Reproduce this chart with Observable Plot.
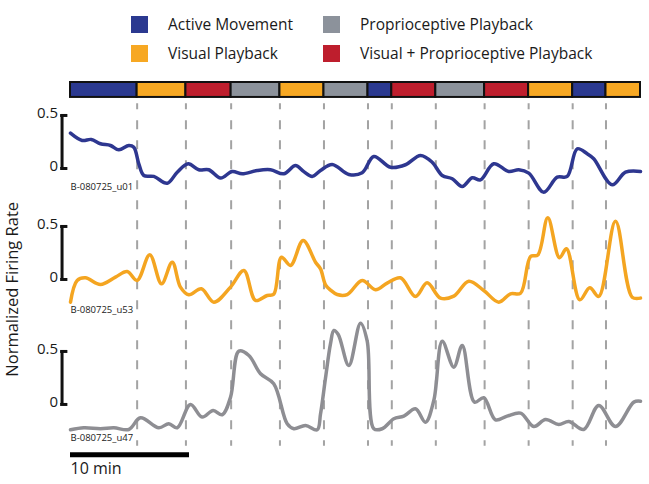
<!DOCTYPE html>
<html>
<head>
<meta charset="utf-8">
<script src="https://cdn.jsdelivr.net/npm/d3@7"></script>
<script src="https://cdn.jsdelivr.net/npm/@observablehq/plot@0.6"></script>
<style>
  html, body { margin: 0; padding: 0; background: #fff; }
  body { width: 649px; height: 484px; overflow: hidden; font-family: "Open Sans", sans-serif; }
  #legend { position: relative; height: 75px; }
  .item { position: absolute; display: flex; align-items: center; font-size: 15.5px; color: #1a1a1a; white-space: nowrap; }
  .sw { width: 17px; height: 17px; margin-right: 20px; }
  svg { display: block; overflow: visible; }
</style>
</head>
<body>
<div id="legend"></div>
<div id="chart"></div>
<script>
// ---------- data ----------
const conditions = ["Active Movement", "Proprioceptive Playback", "Visual Playback", "Visual + Proprioceptive Playback"];
const conditionColors = ["#2b3990", "#8c929b", "#f7a823", "#be1e2d"];

// session timeline (minutes)
const segmentStarts = [0, 5.6, 9.7, 13.5, 17.6, 21.3, 25.0, 27.0, 30.7, 34.8, 38.5, 42.2, 45.0];
const segmentEnds   = [5.6, 9.7, 13.5, 17.6, 21.3, 25.0, 27.0, 30.7, 34.8, 38.5, 42.2, 45.0, 47.9];
const segmentConditions = ["Active Movement", "Visual Playback", "Visual + Proprioceptive Playback", "Proprioceptive Playback",
  "Visual Playback", "Proprioceptive Playback", "Active Movement", "Visual + Proprioceptive Playback",
  "Proprioceptive Playback", "Visual + Proprioceptive Playback", "Visual Playback", "Active Movement", "Visual Playback"];

const unitNames = ["B-080725_u01", "B-080725_u53", "B-080725_u47"];
const unitColors = ["#2e3790", "#f4a521", "#8e8e93"];

const u01Time = [0, 0.98, 1.74, 2.52, 3.36, 4.06, 4.9, 5.32, 5.74, 6.16, 7.0, 8.13, 8.97, 9.89, 10.78, 11.62, 12.61, 13.59, 14.43, 15.69, 16.81, 17.92, 18.91, 19.61, 20.31, 21.01, 21.99, 23.39, 24.51, 25.49, 26.89, 28.15, 29.41, 30.39, 31.24, 32.08, 32.92, 33.76, 34.45, 35.57, 36.83, 37.67, 38.51, 39.77, 40.9, 41.74, 42.58, 43.42, 43.97, 45.52, 46.64, 47.9];
const u01Rate = [0.333, 0.264, 0.274, 0.233, 0.217, 0.176, 0.217, 0.20, 0.044, -0.066, -0.075, -0.139, -0.035, 0.044, -0.012, -0.012, -0.091, -0.028, -0.05, -0.019, -0.012, -0.05, 0.028, -0.03, -0.075, -0.019, 0.038, -0.057, -0.041, 0.113, 0.012, 0.035, 0.123, 0.059, -0.066, -0.097, -0.17, -0.088, -0.107, 0.044, -0.028, -0.012, -0.044, -0.224, -0.082, -0.075, 0.186, 0.139, 0.092, -0.154, -0.035, -0.028];

const u53Time = [0, 0.56, 1.26, 2.52, 3.78, 4.76, 5.6, 6.66, 7.65, 8.55, 9.24, 9.94, 11.0, 12.04, 13.45, 14.57, 15.55, 16.53, 17.08, 17.73, 18.49, 19.55, 20.59, 21.01, 21.43, 21.85, 22.41, 23.25, 24.51, 25.63, 26.61, 27.73, 28.99, 29.97, 31.09, 32.21, 33.47, 34.73, 35.99, 36.97, 37.82, 38.66, 39.27, 40.11, 41.09, 41.68, 42.8, 43.64, 44.39, 45.8, 47.2, 47.9];
const u53Rate = [-0.214, -0.009, 0.016, -0.047, 0.022, 0.075, -0.009, 0.233, -0.041, 0.163, -0.072, -0.144, -0.088, -0.214, -0.072, 0.085, -0.198, -0.151, -0.14, 0.21, 0.132, 0.368, 0.163, 0.10, -0.05, -0.10, -0.142, -0.142, -0.009, -0.097, -0.035, 0.016, -0.16, -0.031, -0.176, -0.157, -0.016, -0.104, -0.214, -0.135, -0.13, 0.217, 0.23, 0.582, 0.205, 0.29, -0.192, -0.078, -0.16, 0.55, -0.167, -0.176];

const u47Time = [0, 1.12, 2.52, 3.64, 4.9, 5.88, 7.42, 8.26, 8.97, 10.08, 11.06, 11.99, 12.75, 13.45, 14.15, 14.99, 15.97, 17.08, 18.21, 18.77, 19.75, 20.73, 21.01, 21.43, 21.85, 22.13, 22.5, 23.39, 24.37, 24.93, 25.49, 26.19, 27.17, 28.01, 28.99, 29.83, 30.53, 31.24, 32.21, 32.92, 33.95, 34.73, 35.71, 36.69, 37.82, 38.93, 39.92, 41.03, 41.87, 43.13, 44.39, 45.8, 47.34, 47.9];
const u47Rate = [-0.239, -0.22, -0.229, -0.22, -0.236, -0.126, -0.22, -0.182, -0.22, 0.0, -0.119, -0.057, -0.097, 0.069, 0.503, 0.462, 0.29, 0.195, -0.182, -0.229, -0.198, -0.239, -0.09, 0.25, 0.573, 0.698, 0.66, 0.368, 0.767, 0.6, -0.229, -0.229, -0.135, -0.11, -0.041, -0.167, 0.038, 0.597, 0.352, 0.557, 0.022, 0.063, -0.145, -0.11, -0.082, -0.208, -0.142, -0.189, -0.16, -0.236, -0.009, -0.208, 0.022, 0.03];

const bracketTicks = [0, 0.5];
const bracketLabels = ["0", "0.5"];
const scaleBarMinutes = 10;
const scaleBarLabel = "10 min";
const yTitle = "Normalized Firing Rate";

// ---------- layout (vertical stacking of the three traces, in rate units) ----------
const panelOffsets = [0, -1.047, -2.226];
const labelOffsets = [-0.17, -0.29, -0.32];
const barY1 = 0.67, barY2 = 0.811;
const dashTop = 0.61, dashBottom = -2.62;
const bracketX = -0.71, bracketTickX = -0.22, bracketLabelX = -1.05;
const scaleBarY = -2.70, scaleLabelY = -2.83;
const titleX = -4.85, titleY = -1.14;

// ---------- legend ----------
const legend = document.getElementById("legend");
const legendPos = [[131, 13], [323, 13], [131, 42], [323, 42]];
conditions.forEach((c, i) => {
  const el = document.createElement("div");
  el.className = "item";
  el.style.left = legendPos[i][0] + "px";
  el.style.top = legendPos[i][1] + "px";
  el.innerHTML = `<div class="sw" style="background:${conditionColors[i]}"></div><span>${c}</span>`;
  legend.appendChild(el);
});

// ---------- tables ----------
const segments = segmentStarts.map((s, i) => ({start: s, end: segmentEnds[i], condition: segmentConditions[i]}));
const boundaries = segmentStarts.slice(1);
const traces = [[u01Time, u01Rate], [u53Time, u53Rate], [u47Time, u47Rate]].flatMap(([t, r], k) =>
  t.map((time, i) => ({unit: unitNames[k], time, y: r[i] + panelOffsets[k]})));
const brackets = panelOffsets.map((o) => ({y1: o + bracketTicks[0], y2: o + bracketTicks[1]}));
const bracketTickRows = panelOffsets.flatMap((o) => bracketTicks.map((t, j) => ({y: o + t, label: bracketLabels[j]})));
const unitLabels = unitNames.map((u, k) => ({unit: u, y: panelOffsets[k] + labelOffsets[k]}));

const font = "Open Sans";
const chart = Plot.plot({
  width: 649,
  height: 409,
  marginLeft: 70,
  marginRight: 9,
  marginTop: 0,
  marginBottom: 0,
  style: {fontFamily: font, background: "white", overflow: "visible"},
  x: {domain: [0, 47.9], axis: null},
  y: {domain: [-2.981, 0.877], axis: null},
  color: {domain: conditions, range: conditionColors},
  marks: [
    Plot.ruleX(boundaries, {y1: dashTop, y2: dashBottom, stroke: "#a3a3a3", strokeWidth: 2, strokeDasharray: "9,11", strokeDashoffset: 3}),
    Plot.rect(segments, {x1: "start", x2: "end", y1: barY1, y2: barY2, fill: "condition", stroke: "#111", strokeWidth: 2}),
    Plot.line(traces, {x: "time", y: "y", z: "unit", stroke: (d) => unitColors[unitNames.indexOf(d.unit)], strokeWidth: 3.5, curve: "catmull-rom", strokeLinejoin: "round", strokeLinecap: "round"}),
    Plot.ruleX(brackets, {x: bracketX, y1: "y1", y2: "y2", stroke: "#111", strokeWidth: 3}),
    Plot.ruleY(bracketTickRows, {y: "y", x1: bracketX - 0.12, x2: bracketTickX, stroke: "#111", strokeWidth: 3}),
    Plot.text(bracketTickRows, {x: bracketLabelX, y: "y", text: "label", textAnchor: "end", fontSize: 15, fill: "#1a1a1a", dy: -2}),
    Plot.text(unitLabels, {x: 0, y: "y", text: "unit", textAnchor: "start", fontSize: 9.5, fill: "#222"}),
    Plot.ruleY([scaleBarY], {x1: 0, x2: scaleBarMinutes, stroke: "#000", strokeWidth: 5}),
    Plot.text([scaleBarLabel], {x: 0, y: scaleLabelY, text: (d) => d, textAnchor: "start", fontSize: 16, fill: "#1a1a1a"}),
    Plot.text([yTitle], {x: titleX, y: titleY, text: (d) => d, rotate: -90, fontSize: 16.5, fill: "#1a1a1a"})
  ]
});
document.getElementById("chart").appendChild(chart);
</script>
</body>
</html>
